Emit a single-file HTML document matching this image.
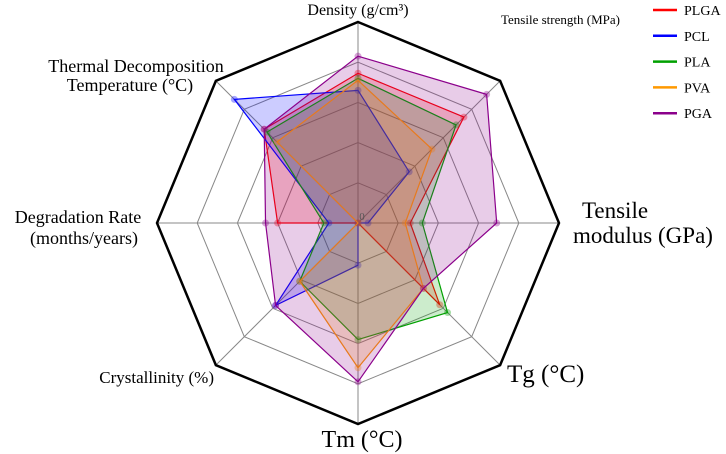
<!DOCTYPE html>
<html><head><meta charset="utf-8">
<style>
html,body{margin:0;padding:0;background:#fff;width:726px;height:454px;overflow:hidden}
svg, svg text{font-family:"Liberation Serif","DejaVu Serif",serif}
</style></head>
<body>
<svg id="chart" width="726" height="454" viewBox="0 0 726 454" font-family="Liberation Serif, DejaVu Serif, serif">
  <g id="grid"></g>
  <g id="series"></g>
  <text x="362" y="220" font-size="11" fill="#555" text-anchor="middle" font-family="Liberation Serif, serif">0</text>
  <g fill="#000" font-family="Liberation Serif, serif">
    <text x="358" y="15" font-size="16" text-anchor="middle" font-family="Liberation Serif, serif">Density (g/cm³)</text>
    <text x="501" y="24" font-size="13" font-family="Liberation Serif, serif">Tensile strength (MPa)</text>
    <text x="615" y="218" font-size="23" text-anchor="middle" font-family="Liberation Serif, serif">Tensile</text>
    <text x="643" y="243" font-size="23" text-anchor="middle" font-family="Liberation Serif, serif">modulus (GPa)</text>
    <text x="507" y="382" font-size="25" font-family="Liberation Serif, serif">Tg (°C)</text>
    <text x="362" y="447" font-size="24" text-anchor="middle" font-family="Liberation Serif, serif">Tm (°C)</text>
    <text x="214" y="383" font-size="17" text-anchor="end" font-family="Liberation Serif, serif">Crystallinity (%)</text>
    <text x="78" y="223" font-size="18" text-anchor="middle" font-family="Liberation Serif, serif">Degradation Rate</text>
    <text x="84" y="244" font-size="18" text-anchor="middle" font-family="Liberation Serif, serif">(months/years)</text>
    <text x="136" y="72" font-size="18" text-anchor="middle" font-family="Liberation Serif, serif">Thermal Decomposition</text>
    <text x="130" y="91" font-size="18" text-anchor="middle" font-family="Liberation Serif, serif">Temperature (°C)</text>
  </g>
  <g id="legend" font-family="Liberation Serif, serif"></g>
</svg>
<script>
const axes = ["Density","Tensile strength","Tensile modulus","Tg","Tm","Crystallinity","Degradation Rate","Thermal Decomposition"];
const seriesNames = ["PLGA","PCL","PLA","PVA","PGA"];
const seriesColors = ["#ff0000","#0000ff","#00a000","#ff9900","#8b008b"];
const plgaValues = [0.745,0.745,0.26,0.575,0,0,0.40,0.66];
const pclValues  = [0.66,0.36,0.05,0,0.21,0.58,0.145,0.87];
const plaValues  = [0.72,0.69,0.32,0.63,0.58,0.41,0.17,0.64];
const pvaValues  = [0.71,0.52,0.235,0.46,0.72,0.41,0,0.57];
const pgaValues  = [0.83,0.905,0.69,0.46,0.79,0.58,0.46,0.66];
const ringLevels = [0.2,0.4,0.6,0.8,1.0];

const NS="http://www.w3.org/2000/svg";
const cx=358, cy=223, R=201;
function angleOf(i){return -Math.PI/2 + i*2*Math.PI/axes.length;}
function pt(i,v){const a=angleOf(i);return [cx+R*v*Math.cos(a), cy+R*v*Math.sin(a)];}
function mk(tag,attrs,parent){const e=document.createElementNS(NS,tag);for(const k in attrs)e.setAttribute(k,attrs[k]);parent.appendChild(e);return e;}

const grid=document.getElementById('grid');
axes.forEach((a,i)=>{
  const p=pt(i,1);
  const l=mk('line',{x1:cx,y1:cy,x2:p[0],y2:p[1],stroke:'#888','stroke-width':1},grid);
  
  
});
ringLevels.forEach((lv,k)=>{
  const pts=axes.map((a,i)=>pt(i,lv).join(',')).join(' ');
  const outer = k===ringLevels.length-1;
  const pg=mk('polygon',{points:pts,fill:'none',stroke:outer?'#000':'#888','stroke-width':outer?2.5:1},grid);
  
  
});

const allValues=[plgaValues,pclValues,plaValues,pvaValues,pgaValues];
const layer=document.getElementById('series');
allValues.forEach((vals,s)=>{
  const g=mk('g',{},layer);
  
  
  const pts=vals.map((v,i)=>pt(i,v).join(',')).join(' ');
  const pg=mk('polygon',{points:pts,fill:seriesColors[s],'fill-opacity':0.2,stroke:seriesColors[s],'stroke-width':1.2},g);
  
  
  vals.forEach((v,i)=>{
    const p=pt(i,v);
    const c=mk('circle',{cx:p[0],cy:p[1],r:3.5,fill:seriesColors[s],'fill-opacity':0.35},g);
    
    
  });
});

const lg=document.getElementById('legend');
seriesNames.forEach((n,s)=>{
  const y=10+s*25.8;
  const e=mk('g',{},lg);
  
  
  mk('line',{x1:653,y1:y,x2:677,y2:y,stroke:seriesColors[s],'stroke-width':2.5},e);
  const t=mk('text',{x:684,y:y+5,'font-size':14,'font-family':'Liberation Serif, serif'},e);
  t.textContent=n;
});
</script>
</body></html>
